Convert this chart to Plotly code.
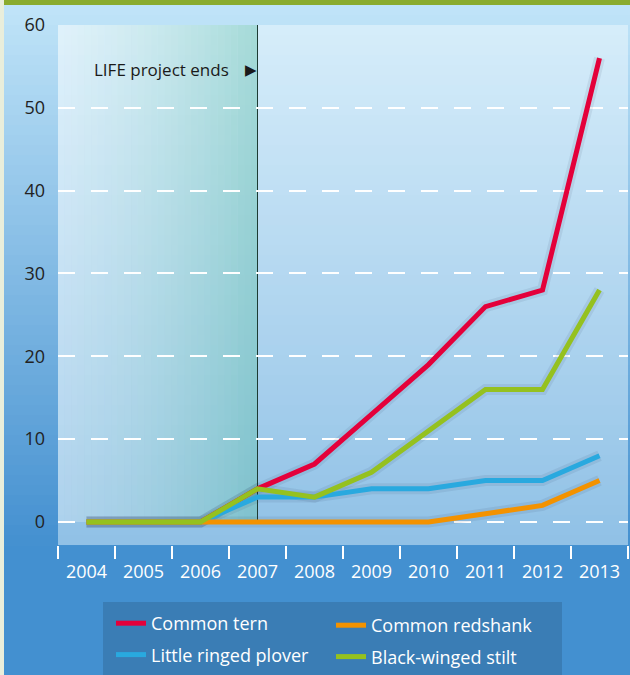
import plotly.graph_objects as go

# ---- data ----
years = ["2004", "2005", "2006", "2007", "2008", "2009", "2010", "2011", "2012", "2013"]
common_tern = [0, 0, 0, 4, 7, 13, 19, 26, 28, 56]
little_ringed_plover = [0, 0, 0, 3, 3, 4, 4, 5, 5, 8]
common_redshank = [0, 0, 0, 0, 0, 0, 0, 1, 2, 5]
black_winged_stilt = [0, 0, 0, 4, 3, 6, 11, 16, 16, 28]
y_ticks = [0, 10, 20, 30, 40, 50, 60]
project_end_year = "2007"
annotation_text = "LIFE project ends"

W, H = 630, 675
PL, PR, PT, PB = 58, 628, 25, 545  # plot area in px


def pxx(x):
    return (x - PL) / (PR - PL)


def pxy(y):
    return (PB - y) / (PB - PT)


def lerp(c0, c1, t):
    return tuple(a + (b - a) * t for a, b in zip(c0, c1))


def rgba(c):
    if len(c) == 4:
        return "rgba(%d,%d,%d,%.3f)" % (round(c[0]), round(c[1]), round(c[2]), c[3])
    return "rgb(%d,%d,%d)" % (round(c[0]), round(c[1]), round(c[2]))


FONT = "Open Sans, DejaVu Sans, sans-serif"
shapes = []

# figure background vertical gradient (paper)
n = 54
y_start, y_end = 5, 545
for i in range(n):
    ya = y_start + (y_end - y_start) * i / n
    yb = y_start + (y_end - y_start) * (i + 1) / n + 1
    c = lerp((192, 228, 248), (68, 144, 208), (i + 0.5) / n)
    shapes.append(dict(type="rect", xref="paper", yref="paper", layer="below",
                       x0=pxx(0), x1=pxx(W), y0=pxy(ya), y1=pxy(yb),
                       fillcolor=rgba(c), line=dict(width=0)))
# green top bar and beige left strip
shapes.append(dict(type="rect", xref="paper", yref="paper", layer="below",
                   x0=pxx(0), x1=pxx(W), y0=pxy(0), y1=pxy(5),
                   fillcolor="#8aab2e", line=dict(width=0)))
shapes.append(dict(type="rect", xref="paper", yref="paper", layer="below",
                   x0=pxx(0), x1=pxx(4), y0=pxy(0), y1=pxy(H),
                   fillcolor="#e9eedb", line=dict(width=0)))

# plot area gradient
n = 52
for i in range(n):
    ya = i / n
    yb = (i + 1) / n + 0.003
    c = lerp((144, 193, 230), (214, 237, 250), (i + 0.5) / n)
    shapes.append(dict(type="rect", xref="paper", yref="paper", layer="below",
                       x0=0, x1=1, y0=ya, y1=min(yb, 1),
                       fillcolor=rgba(c), line=dict(width=0)))

# project period shading (horizontal gradient)
end_idx = years.index(project_end_year)
n = 30
x_lo, x_hi = -0.5, end_idx
for i in range(n):
    xa = x_lo + (x_hi - x_lo) * i / n
    xb = x_lo + (x_hi - x_lo) * (i + 1) / n
    c = lerp((255, 255, 255, 0.25), (96, 192, 168, 0.42), (i + 0.5) / n)
    shapes.append(dict(type="rect", xref="x", yref="y", layer="below",
                       x0=xa, x1=xb, y0=0, y1=y_ticks[-1],
                       fillcolor=rgba(c), line=dict(width=0)))
# end line
shapes.append(dict(type="line", xref="x", yref="y", layer="below",
                   x0=end_idx, x1=end_idx, y0=0, y1=y_ticks[-1],
                   line=dict(color="#1d3b33", width=1)))

# legend box
shapes.append(dict(type="rect", xref="paper", yref="paper", layer="below",
                   x0=pxx(103), x1=pxx(562), y0=pxy(602), y1=pxy(H),
                   fillcolor="#3a7db5", line=dict(width=0)))

fig = go.Figure()

series = [
    ("Common tern", common_tern, "#e4003a", "legend", 1),
    ("Little ringed plover", little_ringed_plover, "#29a9df", "legend", 2),
    ("Common redshank", common_redshank, "#f39200", "legend2", 1),
    ("Black-winged stilt", black_winged_stilt, "#95c11f", "legend2", 2),
]

# soft shadows
for name, vals, col, lg, rk in series:
    fig.add_trace(go.Scatter(x=years, y=vals, mode="lines", showlegend=False,
                             hoverinfo="skip",
                             line=dict(color="rgba(20,40,80,0.08)", width=11)))

for name, vals, col, lg, rk in series:
    fig.add_trace(go.Scatter(x=years, y=vals, mode="lines", name=name,
                             legend=lg, legendrank=rk, legendgroup=name,
                             line=dict(color=col, width=5)))

fig.add_annotation(x=end_idx, y=54.6, xref="x", yref="y", text=annotation_text,
                   showarrow=False, xanchor="right", yanchor="middle", xshift=-27,
                   font=dict(family=FONT, size=17, color="#1a1a1a"))
fig.add_annotation(x=end_idx, y=54.6, xref="x", yref="y", text="▶",
                   showarrow=False, xanchor="right", yanchor="middle", xshift=1,
                   font=dict(family="DejaVu Sans", size=15, color="#1a1a1a"))

fig.update_layout(
    width=W, height=H,
    margin=dict(l=PL, r=W - PR, t=PT, b=H - PB, pad=0, autoexpand=False),
    paper_bgcolor="#4390d0",
    plot_bgcolor="rgba(0,0,0,0)",
    shapes=shapes,
    font=dict(family=FONT, size=17, color="#222"),
    xaxis=dict(type="category", range=[-0.5, len(years) - 0.5], tickson="boundaries",
               ticks="outside", ticklen=13, tickwidth=1.5, tickcolor="white",
               ticklabelstandoff=14,
               showgrid=False, zeroline=False, showline=False,
               tickfont=dict(family=FONT, size=18, color="white"), fixedrange=True),
    yaxis=dict(range=[-2.78, 60], tickvals=y_ticks, showgrid=True,
               gridcolor="white", gridwidth=2, griddash="17px,16px",
               zeroline=False, showline=False, ticks="",
               ticklabelstandoff=12,
               tickfont=dict(family=FONT, size=18, color="#222"), fixedrange=True),
    legend=dict(x=pxx(111), y=pxy(605), xanchor="left", yanchor="top",
                orientation="v", bgcolor="rgba(0,0,0,0)", tracegroupgap=5,
                font=dict(family=FONT, size=18, color="white"), itemwidth=30),
    legend2=dict(x=pxx(331), y=pxy(607), xanchor="left", yanchor="top",
                 orientation="v", bgcolor="rgba(0,0,0,0)", tracegroupgap=5,
                 font=dict(family=FONT, size=18, color="white"), itemwidth=30),
    showlegend=True,
)

fig.write_html("out.html")
